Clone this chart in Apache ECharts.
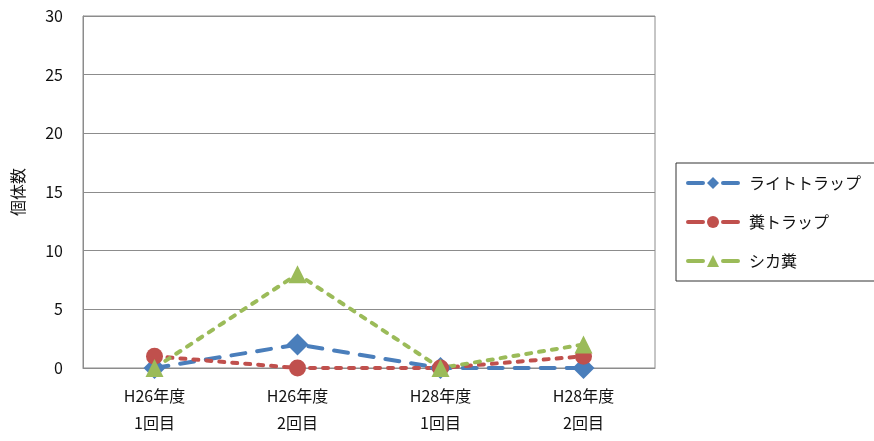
<!DOCTYPE html>
<html>
<head>
<meta charset="utf-8">
<script src="https://cdn.jsdelivr.net/npm/echarts@6/dist/echarts.min.js"></script>
<style>
  html, body { margin: 0; padding: 0; background: #fff; }
  #chart { width: 874px; height: 441px; }
</style>
</head>
<body>
<div id="chart"></div>
<script>
// 調査回
const categories = ['H26年度\n1回目', 'H26年度\n2回目', 'H28年度\n1回目', 'H28年度\n2回目']
// 個体数
const lightTrap = [0, 2, 0, 0]
const dungTrap = [1, 0, 0, 1]
const deerDung = [0, 8, 0, 2]

const font = '"Noto Sans CJK JP", "Noto Sans", sans-serif'

const chart = echarts.init(document.getElementById('chart'))

const mkSeries = (name, data, color, symbol, size, dash) => ({
  name,
  type: 'line',
  data,
  symbol,
  symbolSize: size,
  itemStyle: { color },
  lineStyle: { color, width: 4, type: dash, cap: 'round' },
  emphasis: { disabled: true },
  z: 2
})

chart.setOption({
  animation: false,
  backgroundColor: '#fff',
  textStyle: { fontFamily: font },
  grid: { left: 83, right: 219, top: 16, bottom: 73, show: true, borderColor: '#8c8c8c', borderWidth: 1 },
  legend: {
    orient: 'vertical',
    left: 676,
    top: 163,
    width: 190,
    height: 116,
    padding: [12, 14, 12, 10],
    borderColor: '#333',
    borderWidth: 1,
    itemWidth: 50,
    itemHeight: 15,
    itemGap: 23,
    itemStyle: { borderWidth: 0 },
    lineStyle: { width: 4, type: [15, 20], cap: 'round' },
    textStyle: { fontSize: 16, color: '#111', fontFamily: font, padding: [0, 0, 0, 6] },
    data: ['ライトトラップ', '糞トラップ', 'シカ糞']
  },
  xAxis: {
    type: 'category',
    data: categories,
    boundaryGap: true,
    axisLine: { lineStyle: { color: '#8c8c8c', width: 1 } },
    axisTick: { show: false },
    axisLabel: { fontSize: 16, color: '#111', lineHeight: 27, margin: 14, fontFamily: font }
  },
  yAxis: {
    type: 'value',
    min: 0,
    max: 30,
    interval: 5,
    name: '個体数',
    nameLocation: 'middle',
    nameGap: 57,
    nameRotate: 90,
    nameTextStyle: { fontSize: 16, color: '#111', fontFamily: font },
    axisLine: { show: true, lineStyle: { color: '#8c8c8c' } },
    axisTick: { show: false },
    axisLabel: { fontSize: 16, color: '#111', margin: 20, fontFamily: font },
    splitLine: { lineStyle: { color: '#8c8c8c', width: 1 } }
  },
  series: [
    mkSeries('ライトトラップ', lightTrap, '#4a7ebb', 'diamond', 22, [14, 12]),
    mkSeries('糞トラップ', dungTrap, '#c0504d', 'circle', 17, [5, 8]),
    mkSeries('シカ糞', deerDung, '#9bbb59', 'triangle', 18, [5, 8])
  ]
})
</script>
</body>
</html>
